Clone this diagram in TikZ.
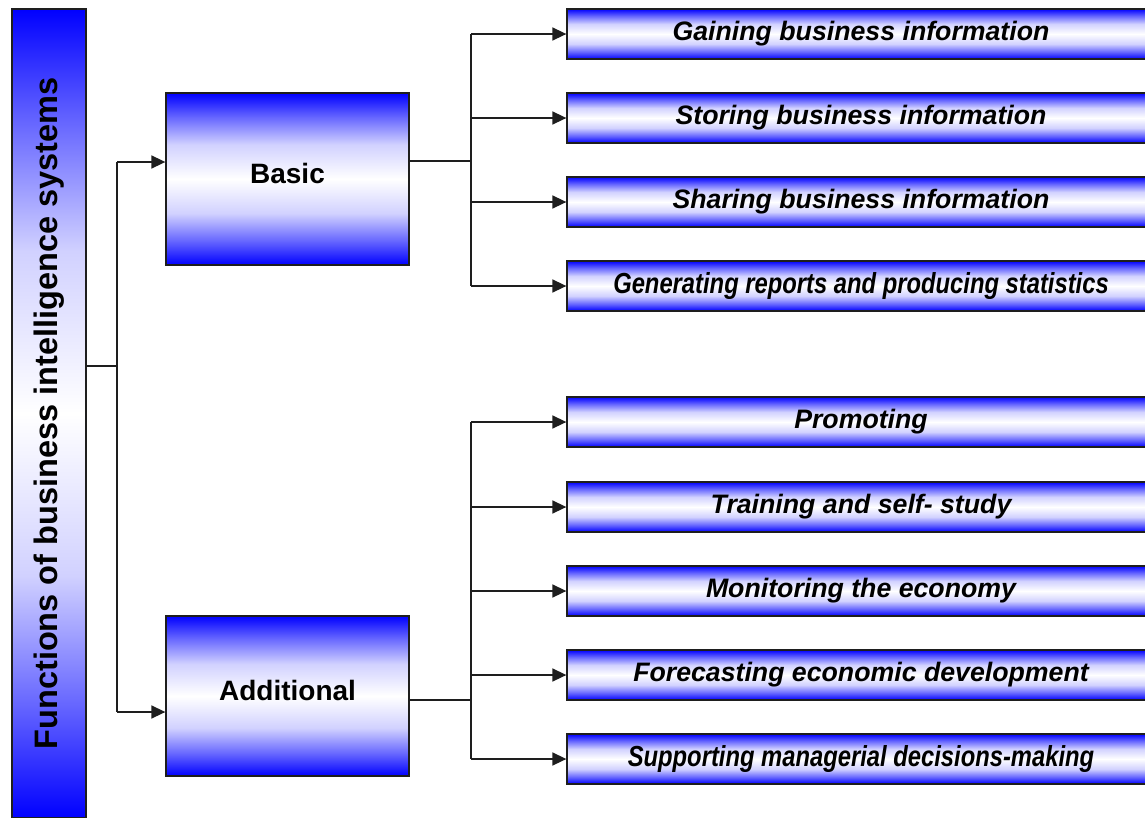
\documentclass[tikz,border=0pt]{standalone}
\usepackage{fontspec}
\setmainfont{Liberation Sans}
\newfontfamily\narrowfont[FakeStretch=0.82]{Liberation Sans}
\usetikzlibrary{arrows.meta}

\definecolor{bblue}{RGB}{0,0,255}
\definecolor{edge}{RGB}{30,30,30}

% blue -> white -> blue band, fitted to the box height
\pgfdeclareverticalshading{barshade}{100bp}{%
  color(0bp)=(bblue); color(25bp)=(bblue);
  color(32bp)=(bblue!60!white); color(40bp)=(bblue!18!white);
  color(50bp)=(white);
  color(60bp)=(bblue!18!white); color(68bp)=(bblue!60!white);
  color(75bp)=(bblue); color(100bp)=(bblue)}

\tikzset{
  box/.style={draw=edge, line width=1.3pt, shading=barshade, inner sep=0pt},
  bigbox/.style={box, minimum width=243pt, minimum height=#1},
  fnbox/.style={box, minimum width=588pt, minimum height=50pt,
    font=\fontsize{26.7}{30}\selectfont\bfseries\itshape},
  fnnarrow/.style={fnbox, font=\narrowfont\fontsize{29}{32}\selectfont\bfseries\itshape},
  bigtext/.style={font=\fontsize{28}{32}\selectfont\bfseries, inner sep=0pt},
  link/.style={draw=edge, line width=1.6pt},
  arr/.style={link, -{Triangle[length=14pt,width=13pt]}}
}

\begin{document}
\begin{tikzpicture}[x=1pt, y=-1pt]
\useasboundingbox (0,0) rectangle (1145,817);
\clip (0,0) rectangle (1145,817);

% root column
\node[box, minimum width=74pt, minimum height=809pt] (root) at (49,413.5) {};
\node[rotate=90, anchor=base, inner sep=0pt,
      font=\fontsize{32.5}{36}\selectfont\bfseries] (roottxt) at (57,413.5)
      {Functions of business intelligence systems};

% two groups
\node[bigbox=172pt] (basic) at (287.5,179) {};
\node[bigtext] (basictxt) at ([yshift=6pt]basic.center) {Basic};
\node[bigbox=160pt] (addl) at (287.5,696) {};
\node[bigtext] (addltxt) at ([yshift=6pt]addl.center) {Additional};

% functions
\node[fnbox]    (f1) at (861,34)  {Gaining business information};
\node[fnbox]    (f2) at (861,118) {Storing business information};
\node[fnbox]    (f3) at (861,202) {Sharing business information};
\node[fnnarrow] (f4) at (861,286) {Generating reports and producing statistics};
\node[fnbox]    (f5) at (861,422) {Promoting};
\node[fnbox]    (f6) at (861,507) {Training and self- study};
\node[fnbox]    (f7) at (861,591) {Monitoring the economy};
\node[fnbox]    (f8) at (861,675) {Forecasting economic development};
\node[fnnarrow] (f9) at (861,759) {Supporting managerial decisions-making};

% root -> groups
\coordinate (j0) at (117,366);
\coordinate (jb) at (117,162);
\coordinate (ja) at (117,712);
\draw[link] (root.east |- j0) -- (j0);
\draw[link] (jb) -- (ja);
\draw[arr] (jb) -- (jb -| basic.west);
\draw[arr] (ja) -- (ja -| addl.west);

% basic -> functions
\coordinate (kb) at (471,161);
\draw[link] (basic.east |- kb) -- (kb);
\draw[link] (f1.west -| kb) -- (f4.west -| kb);
\foreach \f in {f1,f2,f3,f4}
  \draw[arr] (\f.west -| kb) -- (\f.west);

% additional -> functions
\coordinate (ka) at (471,700);
\draw[link] (addl.east |- ka) -- (ka);
\draw[link] (f5.west -| ka) -- (f9.west -| ka);
\foreach \f in {f5,f6,f7,f8,f9}
  \draw[arr] (\f.west -| ka) -- (\f.west);
\end{tikzpicture}
\end{document}
